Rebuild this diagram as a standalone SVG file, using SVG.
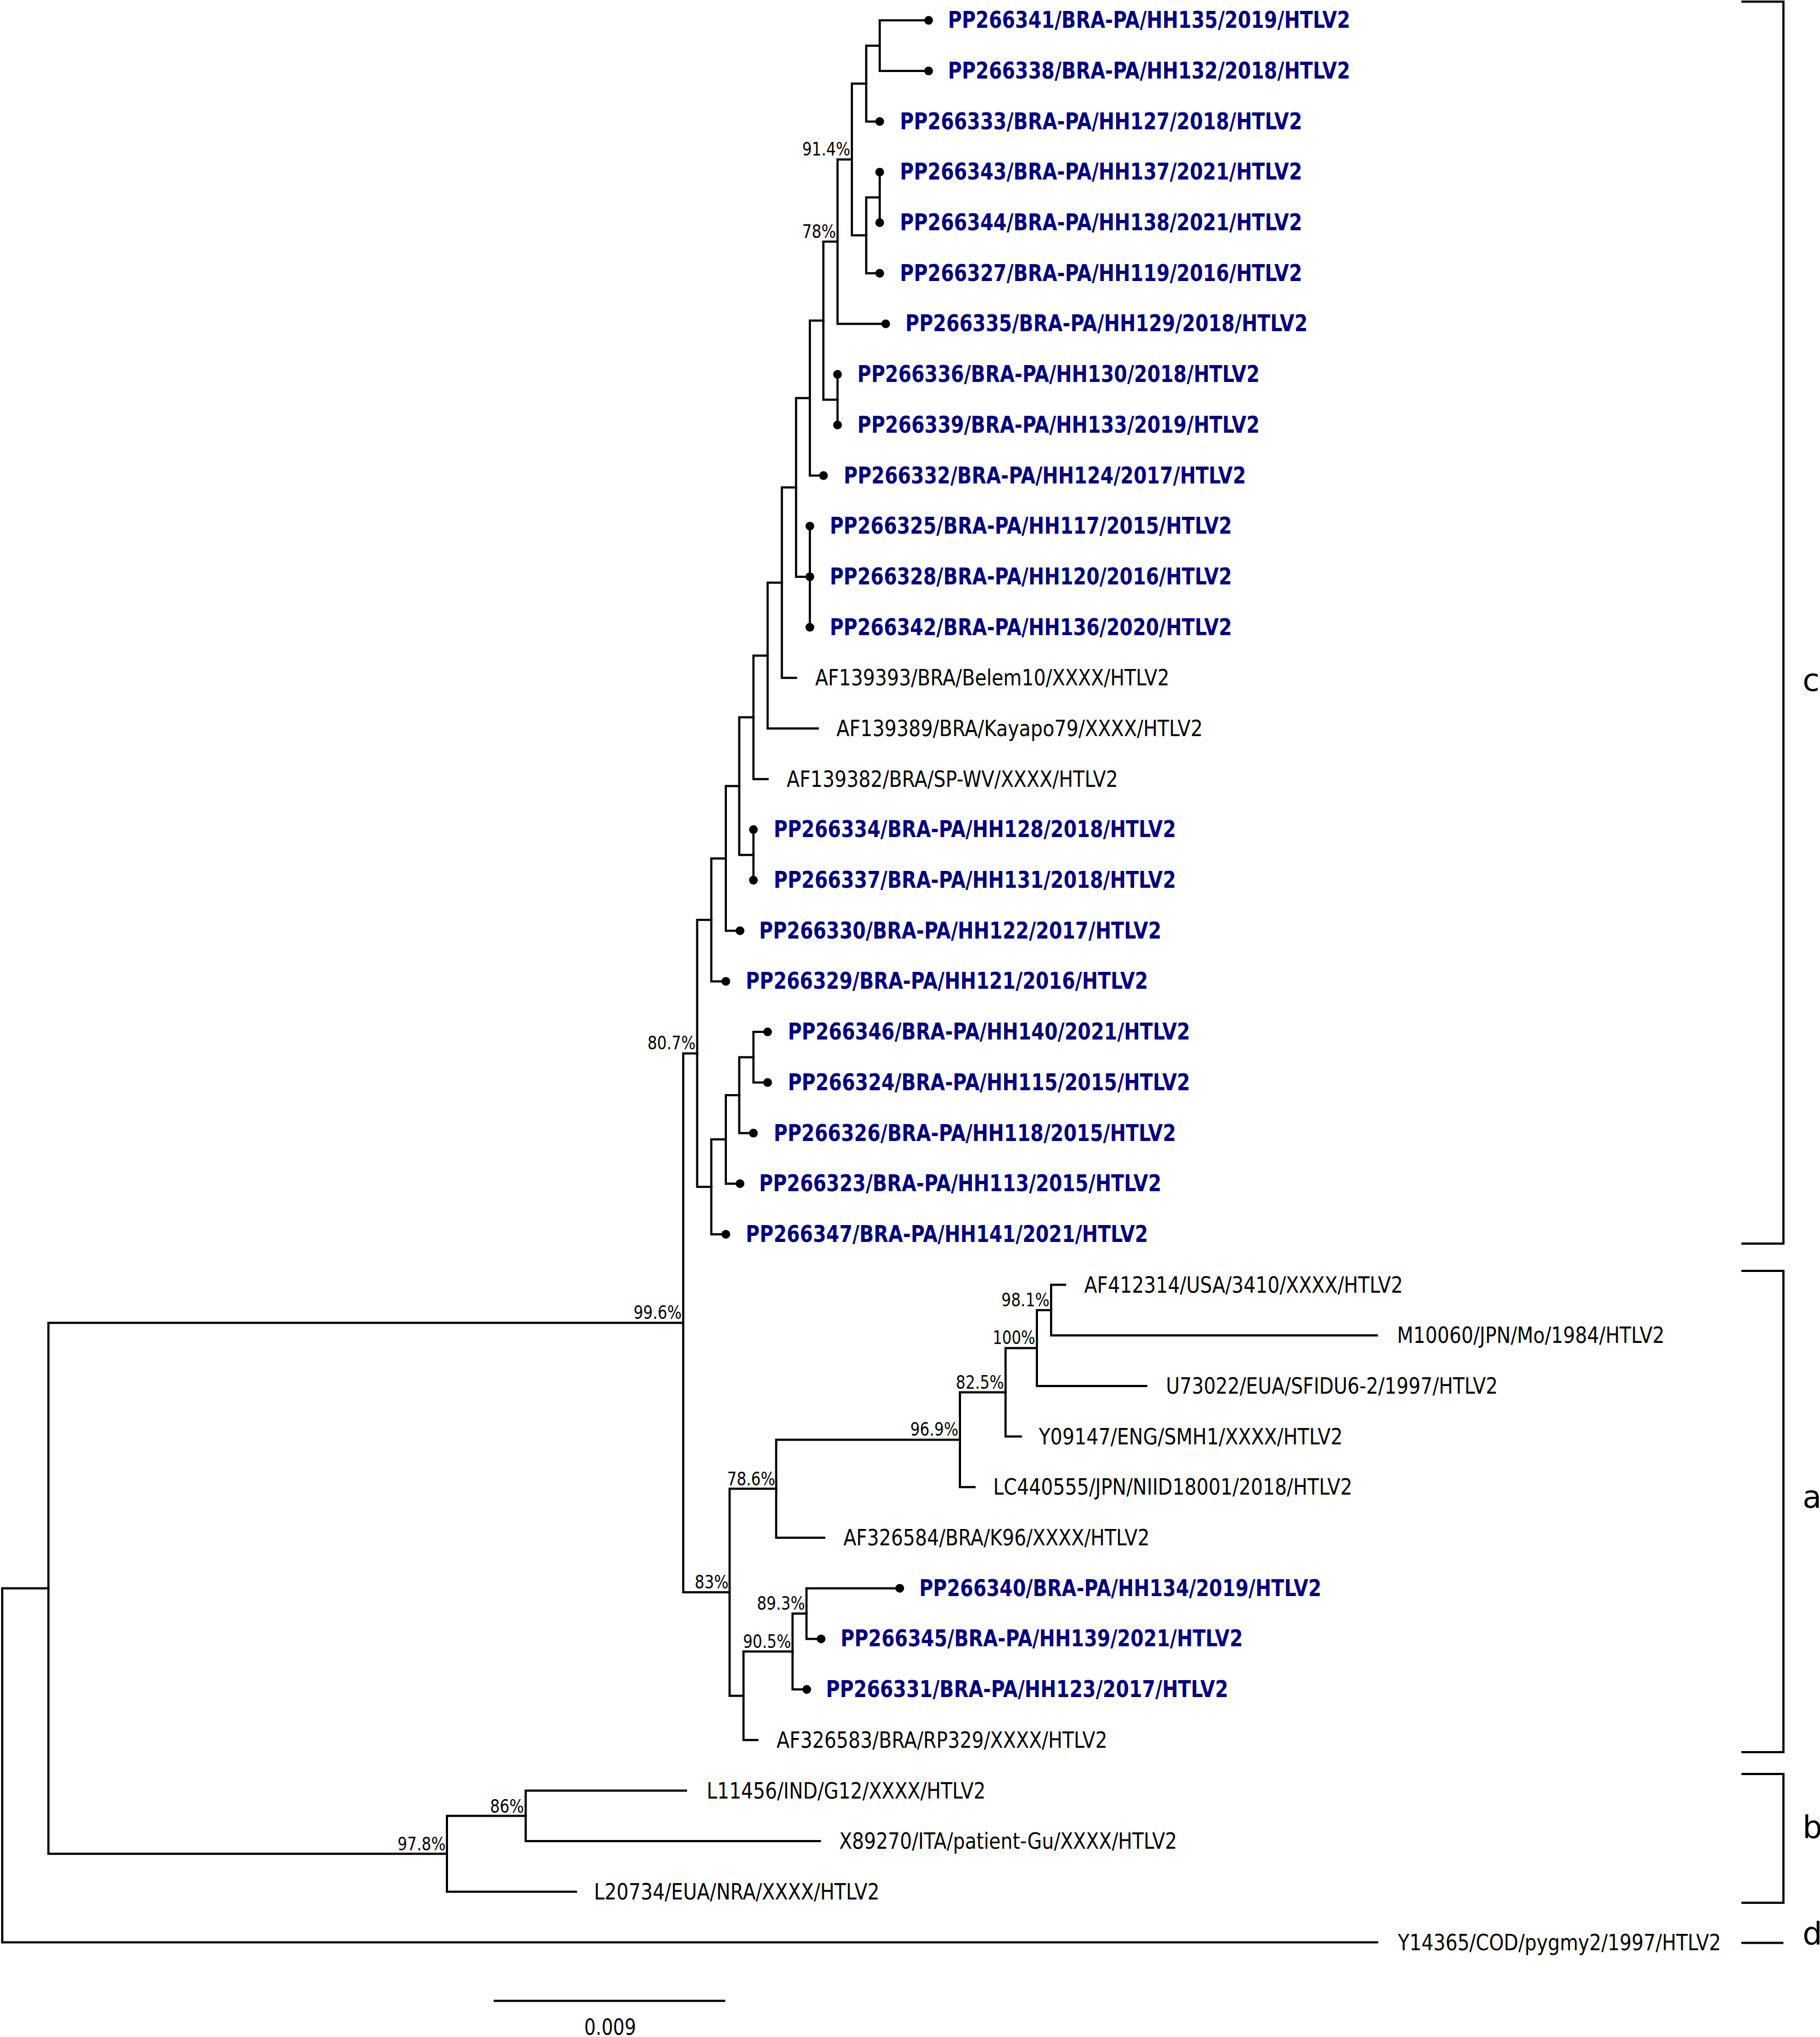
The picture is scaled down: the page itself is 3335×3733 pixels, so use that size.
<svg xmlns="http://www.w3.org/2000/svg" width="3335" height="3733" viewBox="0 0 3335 3733">
<style>
.b{fill:none;stroke:#000;stroke-width:4;stroke-linejoin:miter;stroke-linecap:square}
.k{fill:none;stroke:#000;stroke-width:4}
.dot{fill:#000}
.bl{font-family:"DejaVu Sans","Liberation Sans",sans-serif;font-weight:bold;font-size:42px;fill:#000080}
.pl{font-family:"DejaVu Sans","Liberation Sans",sans-serif;font-size:40px;fill:#000}
.bs{font-family:"DejaVu Sans","Liberation Sans",sans-serif;font-size:34px;fill:#000;text-anchor:end}
.cl{font-family:"DejaVu Sans","Liberation Sans",sans-serif;font-size:57px;fill:#000}
</style>
<rect width="3335" height="3733" fill="#fff"/>
<g id="branches">
<path class="b" d="M1701.6 37.3H1612V130H1701.6"/>
<path class="b" d="M1612 83.65H1587.3V222.7H1612"/>
<path class="b" d="M1612 315.4V408.1"/>
<path class="b" d="M1612 361.75H1587.3V500.8H1612"/>
<path class="b" d="M1587.3 153.2H1561V431.3H1587.3"/>
<path class="b" d="M1561 292.2H1534.7V593.4H1623"/>
<path class="b" d="M1534.7 686.1V778.8"/>
<path class="b" d="M1534.7 442.8H1508.7V732.5H1534.7"/>
<path class="b" d="M1508.7 587.6H1484V871.5H1509"/>
<path class="b" d="M1484 964.2V1149.6"/>
<path class="b" d="M1484 729.6H1458.7V1056.9H1484"/>
<path class="b" d="M1458.7 893.2H1432.7V1242.3H1458.7"/>
<path class="b" d="M1432.7 1067.8H1406.6V1335H1498.5"/>
<path class="b" d="M1406.6 1201.4H1380.6V1427.7H1406.6"/>
<path class="b" d="M1380.6 1520.3V1613"/>
<path class="b" d="M1380.6 1314.5H1354.6V1566.7H1380.6"/>
<path class="b" d="M1354.6 1440.6H1330V1705.7H1356"/>
<path class="b" d="M1330 1573.2H1303.4V1798.4H1330"/>
<path class="b" d="M1406.6 1891.1H1380.6V1983.8H1406.6"/>
<path class="b" d="M1380.6 1937.5H1354.6V2076.5H1380.6"/>
<path class="b" d="M1354.6 2007H1330V2169.2H1356"/>
<path class="b" d="M1330 2088.1H1303.4V2261.9H1330"/>
<path class="b" d="M1303.4 1685.8H1277.5V2175H1303.4"/>
<path class="b" d="M1951.7 2354.6H1926.1V2447.2H2523"/>
<path class="b" d="M1926.1 2400.9H1900V2539.9H2100.4"/>
<path class="b" d="M1900 2470.4H1842.6V2632.6H1870.7"/>
<path class="b" d="M1842.6 2551.5H1759V2725.3H1785.8"/>
<path class="b" d="M1759 2638.4H1422.3V2818H1510.3"/>
<path class="b" d="M1648.7 2910.7H1477.8V3003.4H1504.6"/>
<path class="b" d="M1477.8 2957H1452.3V3096.1H1478.4"/>
<path class="b" d="M1452.3 3026.6H1362.4V3188.8H1387.9"/>
<path class="b" d="M1422.3 2728.2H1336.9V3107.7H1362.4"/>
<path class="b" d="M1277.5 1930.4H1252V2918H1336.9"/>
<path class="b" d="M1257 3281.5H963.3V3374.1H1502.3"/>
<path class="b" d="M963.3 3327.8H819V3466.8H1055.4"/>
<path class="b" d="M1252 2424.2H88.7V3397.3H819"/>
<path class="b" d="M88.7 2910.8H4.1V3559.5H2523.5"/>
</g>
<g id="support">
<text class="bs" x="1558" y="285" textLength="88" lengthAdjust="spacingAndGlyphs">91.4%</text>
<text class="bs" x="1531.7" y="436" textLength="62" lengthAdjust="spacingAndGlyphs">78%</text>
<text class="bs" x="1274.5" y="1923.4" textLength="88" lengthAdjust="spacingAndGlyphs">80.7%</text>
<text class="bs" x="1249" y="2417.2" textLength="88" lengthAdjust="spacingAndGlyphs">99.6%</text>
<text class="bs" x="1923.1" y="2393.9" textLength="88" lengthAdjust="spacingAndGlyphs">98.1%</text>
<text class="bs" x="1897" y="2463.4" textLength="78" lengthAdjust="spacingAndGlyphs">100%</text>
<text class="bs" x="1839.6" y="2544.5" textLength="88" lengthAdjust="spacingAndGlyphs">82.5%</text>
<text class="bs" x="1756" y="2631.4" textLength="88" lengthAdjust="spacingAndGlyphs">96.9%</text>
<text class="bs" x="1420.3" y="2722.2" textLength="88" lengthAdjust="spacingAndGlyphs">78.6%</text>
<text class="bs" x="1334.9" y="2911" textLength="62" lengthAdjust="spacingAndGlyphs">83%</text>
<text class="bs" x="1475" y="2950" textLength="88" lengthAdjust="spacingAndGlyphs">89.3%</text>
<text class="bs" x="1449.5" y="3019.6" textLength="88" lengthAdjust="spacingAndGlyphs">90.5%</text>
<text class="bs" x="816.5" y="3391" textLength="88" lengthAdjust="spacingAndGlyphs">97.8%</text>
<text class="bs" x="960" y="3321.5" textLength="62" lengthAdjust="spacingAndGlyphs">86%</text>
</g>
<g id="tip-PP266341"><circle class="dot" cx="1701.6" cy="37.3" r="8"/><text class="bl" x="1737" y="51.3" textLength="737" lengthAdjust="spacingAndGlyphs">PP266341/BRA-PA/HH135/2019/HTLV2</text></g>
<g id="tip-PP266338"><circle class="dot" cx="1701.6" cy="130" r="8"/><text class="bl" x="1737" y="144" textLength="737" lengthAdjust="spacingAndGlyphs">PP266338/BRA-PA/HH132/2018/HTLV2</text></g>
<g id="tip-PP266333"><circle class="dot" cx="1612" cy="222.7" r="8"/><text class="bl" x="1649" y="236.7" textLength="737" lengthAdjust="spacingAndGlyphs">PP266333/BRA-PA/HH127/2018/HTLV2</text></g>
<g id="tip-PP266343"><circle class="dot" cx="1612" cy="315.4" r="8"/><text class="bl" x="1649" y="329.4" textLength="737" lengthAdjust="spacingAndGlyphs">PP266343/BRA-PA/HH137/2021/HTLV2</text></g>
<g id="tip-PP266344"><circle class="dot" cx="1612" cy="408.1" r="8"/><text class="bl" x="1649" y="422.1" textLength="737" lengthAdjust="spacingAndGlyphs">PP266344/BRA-PA/HH138/2021/HTLV2</text></g>
<g id="tip-PP266327"><circle class="dot" cx="1612" cy="500.8" r="8"/><text class="bl" x="1649" y="514.8" textLength="737" lengthAdjust="spacingAndGlyphs">PP266327/BRA-PA/HH119/2016/HTLV2</text></g>
<g id="tip-PP266335"><circle class="dot" cx="1623" cy="593.4" r="8"/><text class="bl" x="1659" y="607.4" textLength="737" lengthAdjust="spacingAndGlyphs">PP266335/BRA-PA/HH129/2018/HTLV2</text></g>
<g id="tip-PP266336"><circle class="dot" cx="1534.7" cy="686.1" r="8"/><text class="bl" x="1571" y="700.1" textLength="737" lengthAdjust="spacingAndGlyphs">PP266336/BRA-PA/HH130/2018/HTLV2</text></g>
<g id="tip-PP266339"><circle class="dot" cx="1534.7" cy="778.8" r="8"/><text class="bl" x="1571" y="792.8" textLength="737" lengthAdjust="spacingAndGlyphs">PP266339/BRA-PA/HH133/2019/HTLV2</text></g>
<g id="tip-PP266332"><circle class="dot" cx="1509" cy="871.5" r="8"/><text class="bl" x="1546" y="885.5" textLength="737" lengthAdjust="spacingAndGlyphs">PP266332/BRA-PA/HH124/2017/HTLV2</text></g>
<g id="tip-PP266325"><circle class="dot" cx="1484" cy="964.2" r="8"/><text class="bl" x="1520.4" y="978.2" textLength="737" lengthAdjust="spacingAndGlyphs">PP266325/BRA-PA/HH117/2015/HTLV2</text></g>
<g id="tip-PP266328"><circle class="dot" cx="1484" cy="1056.9" r="8"/><text class="bl" x="1520.4" y="1070.9" textLength="737" lengthAdjust="spacingAndGlyphs">PP266328/BRA-PA/HH120/2016/HTLV2</text></g>
<g id="tip-PP266342"><circle class="dot" cx="1484" cy="1149.6" r="8"/><text class="bl" x="1520.4" y="1163.6" textLength="737" lengthAdjust="spacingAndGlyphs">PP266342/BRA-PA/HH136/2020/HTLV2</text></g>
<g id="tip-AF139393"><text class="pl" x="1493.7" y="1256.3" textLength="649" lengthAdjust="spacingAndGlyphs">AF139393/BRA/Belem10/XXXX/HTLV2</text></g>
<g id="tip-AF139389"><text class="pl" x="1532.8" y="1349" textLength="671" lengthAdjust="spacingAndGlyphs">AF139389/BRA/Kayapo79/XXXX/HTLV2</text></g>
<g id="tip-AF139382"><text class="pl" x="1441.6" y="1441.7" textLength="607" lengthAdjust="spacingAndGlyphs">AF139382/BRA/SP-WV/XXXX/HTLV2</text></g>
<g id="tip-PP266334"><circle class="dot" cx="1380.6" cy="1520.3" r="8"/><text class="bl" x="1417.8" y="1534.3" textLength="737" lengthAdjust="spacingAndGlyphs">PP266334/BRA-PA/HH128/2018/HTLV2</text></g>
<g id="tip-PP266337"><circle class="dot" cx="1380.6" cy="1613" r="8"/><text class="bl" x="1417.8" y="1627" textLength="737" lengthAdjust="spacingAndGlyphs">PP266337/BRA-PA/HH131/2018/HTLV2</text></g>
<g id="tip-PP266330"><circle class="dot" cx="1356" cy="1705.7" r="8"/><text class="bl" x="1391" y="1719.7" textLength="737" lengthAdjust="spacingAndGlyphs">PP266330/BRA-PA/HH122/2017/HTLV2</text></g>
<g id="tip-PP266329"><circle class="dot" cx="1330" cy="1798.4" r="8"/><text class="bl" x="1366.6" y="1812.4" textLength="737" lengthAdjust="spacingAndGlyphs">PP266329/BRA-PA/HH121/2016/HTLV2</text></g>
<g id="tip-PP266346"><circle class="dot" cx="1406.6" cy="1891.1" r="8"/><text class="bl" x="1443.7" y="1905.1" textLength="737" lengthAdjust="spacingAndGlyphs">PP266346/BRA-PA/HH140/2021/HTLV2</text></g>
<g id="tip-PP266324"><circle class="dot" cx="1406.6" cy="1983.8" r="8"/><text class="bl" x="1443.7" y="1997.8" textLength="737" lengthAdjust="spacingAndGlyphs">PP266324/BRA-PA/HH115/2015/HTLV2</text></g>
<g id="tip-PP266326"><circle class="dot" cx="1380.6" cy="2076.5" r="8"/><text class="bl" x="1417.8" y="2090.5" textLength="737" lengthAdjust="spacingAndGlyphs">PP266326/BRA-PA/HH118/2015/HTLV2</text></g>
<g id="tip-PP266323"><circle class="dot" cx="1356" cy="2169.2" r="8"/><text class="bl" x="1391" y="2183.2" textLength="737" lengthAdjust="spacingAndGlyphs">PP266323/BRA-PA/HH113/2015/HTLV2</text></g>
<g id="tip-PP266347"><circle class="dot" cx="1330" cy="2261.9" r="8"/><text class="bl" x="1366.6" y="2275.9" textLength="737" lengthAdjust="spacingAndGlyphs">PP266347/BRA-PA/HH141/2021/HTLV2</text></g>
<g id="tip-AF412314"><text class="pl" x="1986.7" y="2368.6" textLength="584" lengthAdjust="spacingAndGlyphs">AF412314/USA/3410/XXXX/HTLV2</text></g>
<g id="tip-M10060"><text class="pl" x="2560" y="2461.2" textLength="490" lengthAdjust="spacingAndGlyphs">M10060/JPN/Mo/1984/HTLV2</text></g>
<g id="tip-U73022"><text class="pl" x="2136.5" y="2553.9" textLength="608" lengthAdjust="spacingAndGlyphs">U73022/EUA/SFIDU6-2/1997/HTLV2</text></g>
<g id="tip-Y09147"><text class="pl" x="1903.4" y="2646.6" textLength="557" lengthAdjust="spacingAndGlyphs">Y09147/ENG/SMH1/XXXX/HTLV2</text></g>
<g id="tip-LC440555"><text class="pl" x="1820" y="2739.3" textLength="658" lengthAdjust="spacingAndGlyphs">LC440555/JPN/NIID18001/2018/HTLV2</text></g>
<g id="tip-AF326584"><text class="pl" x="1545.4" y="2832" textLength="561" lengthAdjust="spacingAndGlyphs">AF326584/BRA/K96/XXXX/HTLV2</text></g>
<g id="tip-PP266340"><circle class="dot" cx="1648.7" cy="2910.7" r="8"/><text class="bl" x="1684.4" y="2924.7" textLength="737" lengthAdjust="spacingAndGlyphs">PP266340/BRA-PA/HH134/2019/HTLV2</text></g>
<g id="tip-PP266345"><circle class="dot" cx="1504.6" cy="3003.4" r="8"/><text class="bl" x="1540.3" y="3017.4" textLength="737" lengthAdjust="spacingAndGlyphs">PP266345/BRA-PA/HH139/2021/HTLV2</text></g>
<g id="tip-PP266331"><circle class="dot" cx="1478.4" cy="3096.1" r="8"/><text class="bl" x="1513.5" y="3110.1" textLength="737" lengthAdjust="spacingAndGlyphs">PP266331/BRA-PA/HH123/2017/HTLV2</text></g>
<g id="tip-AF326583"><text class="pl" x="1423" y="3202.8" textLength="606" lengthAdjust="spacingAndGlyphs">AF326583/BRA/RP329/XXXX/HTLV2</text></g>
<g id="tip-L11456"><text class="pl" x="1295" y="3295.5" textLength="511" lengthAdjust="spacingAndGlyphs">L11456/IND/G12/XXXX/HTLV2</text></g>
<g id="tip-X89270"><text class="pl" x="1537.7" y="3388.1" textLength="619" lengthAdjust="spacingAndGlyphs">X89270/ITA/patient-Gu/XXXX/HTLV2</text></g>
<g id="tip-L20734"><text class="pl" x="1088.5" y="3480.8" textLength="523" lengthAdjust="spacingAndGlyphs">L20734/EUA/NRA/XXXX/HTLV2</text></g>
<g id="tip-Y14365"><text class="pl" x="2561.6" y="3573.5" textLength="592" lengthAdjust="spacingAndGlyphs">Y14365/COD/pygmy2/1997/HTLV2</text></g>
<g id="clade-c"><path class="k" d="M3191 3H3268V2279H3191"/><text class="cl" x="3303" y="1266">c</text></g>
<g id="clade-a"><path class="k" d="M3191 2329H3268V3211H3191"/><text class="cl" x="3303" y="2763">a</text></g>
<g id="clade-b"><path class="k" d="M3191 3251H3268V3487H3191"/><text class="cl" x="3303" y="3368">b</text></g>
<g id="clade-d"><path class="k" d="M3191 3560.5H3268"/><text class="cl" x="3303" y="3563">d</text></g>
<g id="scale-bar"><path class="k" d="M904.6 3666.7H1329"/><text class="pl" x="1118" y="3729" text-anchor="middle" textLength="95" lengthAdjust="spacingAndGlyphs">0.009</text></g>
</svg>
